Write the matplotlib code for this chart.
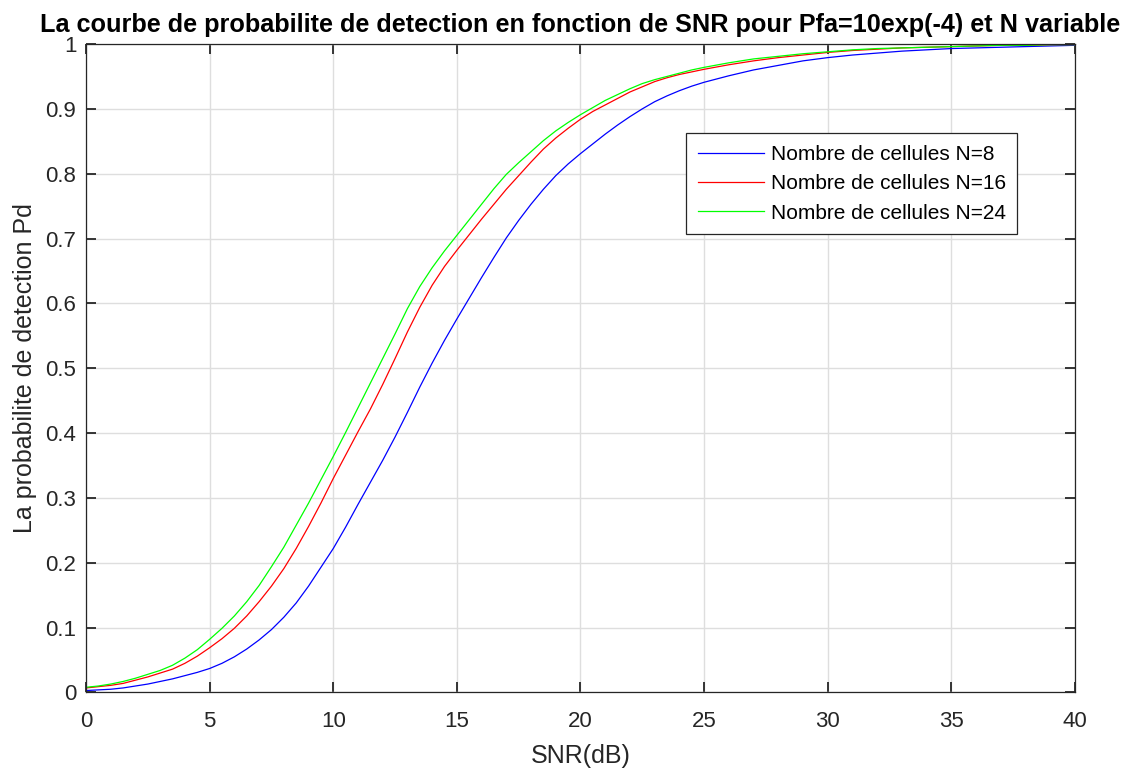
import matplotlib
matplotlib.use('Agg')
import matplotlib.pyplot as plt

plt.rcParams['font.family'] = ['Liberation Sans', 'DejaVu Sans']

# SNR (dB)
snr = [0, 0.5, 1, 1.5, 2, 2.5, 3, 3.5, 4, 4.5, 5, 5.5, 6, 6.5, 7, 7.5, 8, 8.5, 9, 9.5,
       10, 10.5, 11, 11.5, 12, 12.5, 13, 13.5, 14, 14.5, 15, 15.5, 16, 16.5, 17, 17.5,
       18, 18.5, 19, 19.5, 20, 20.5, 21, 21.5, 22, 22.5, 23, 23.5, 24, 24.5, 25,
       26, 27, 28, 29, 30, 31, 32, 33, 34, 35, 36, 37, 38, 39, 40]

# probabilite de detection pour N=8
pd_n8 = [0.003, 0.004, 0.005, 0.007, 0.010, 0.013, 0.017, 0.021, 0.026, 0.031,
         0.037, 0.045, 0.055, 0.067, 0.081, 0.097, 0.116, 0.138, 0.164, 0.193,
         0.222, 0.255, 0.290, 0.324, 0.358, 0.394, 0.432, 0.471, 0.508, 0.543,
         0.576, 0.608, 0.640, 0.671, 0.701, 0.728, 0.753, 0.776, 0.797, 0.815,
         0.831, 0.846, 0.861, 0.875, 0.888, 0.900, 0.911, 0.920, 0.928, 0.935,
         0.941, 0.951, 0.960, 0.967, 0.974, 0.979, 0.983, 0.986, 0.989, 0.991,
         0.993, 0.994, 0.995, 0.996, 0.997, 0.998]
# N=16
pd_n16 = [0.007, 0.009, 0.011, 0.014, 0.019, 0.024, 0.030, 0.036, 0.045, 0.056,
          0.069, 0.083, 0.099, 0.118, 0.140, 0.164, 0.191, 0.222, 0.256, 0.292,
          0.330, 0.366, 0.402, 0.437, 0.475, 0.515, 0.556, 0.594, 0.628, 0.657,
          0.682, 0.706, 0.730, 0.753, 0.776, 0.797, 0.818, 0.838, 0.855, 0.870,
          0.884, 0.896, 0.906, 0.916, 0.926, 0.934, 0.942, 0.948, 0.953, 0.957,
          0.961, 0.968, 0.974, 0.979, 0.983, 0.987, 0.990, 0.992, 0.994, 0.995,
          0.996, 0.997, 0.998, 0.998, 0.999, 0.999]
# N=24
pd_n24 = [0.008, 0.010, 0.013, 0.017, 0.022, 0.028, 0.034, 0.042, 0.053, 0.066,
          0.082, 0.099, 0.118, 0.140, 0.165, 0.194, 0.224, 0.258, 0.292, 0.328,
          0.364, 0.401, 0.439, 0.477, 0.515, 0.553, 0.592, 0.626, 0.655, 0.681,
          0.705, 0.729, 0.753, 0.777, 0.799, 0.817, 0.834, 0.851, 0.866, 0.879,
          0.891, 0.902, 0.913, 0.922, 0.931, 0.939, 0.945, 0.950, 0.955, 0.960,
          0.964, 0.971, 0.977, 0.981, 0.985, 0.988, 0.991, 0.993, 0.994, 0.995,
          0.996, 0.997, 0.998, 0.998, 0.999, 0.999]

labels = ['Nombre de cellules N=8', 'Nombre de cellules N=16', 'Nombre de cellules N=24']
xticks = [0, 5, 10, 15, 20, 25, 30, 35, 40]
yticks = [0, 0.1, 0.2, 0.3, 0.4, 0.5, 0.6, 0.7, 0.8, 0.9, 1]
ytick_labels = ['0', '0.1', '0.2', '0.3', '0.4', '0.5', '0.6', '0.7', '0.8', '0.9', '1']

fig = plt.figure(figsize=(11.38, 7.72), dpi=100)
ax = fig.add_axes([0.0756, 0.103, 0.869, 0.840])

ax.plot(snr, pd_n8, color='#0000ff', lw=0.9, label=labels[0])
ax.plot(snr, pd_n16, color='#ff0000', lw=0.9, label=labels[1])
ax.plot(snr, pd_n24, color='#00ff00', lw=0.9, label=labels[2])

ax.set_xlim(0, 40)
ax.set_ylim(0, 1)
ax.set_xticks(xticks)
ax.set_yticks(yticks)
ax.set_yticklabels(ytick_labels)
ax.grid(True, color='#dedede', lw=1.0)
ax.set_axisbelow(True)
ax.tick_params(direction='in', length=7.5, width=1.3, colors='#262626',
               labelsize=16, top=True, right=True, pad=7)
ax.tick_params(axis='x', pad=13)
for tl in ax.get_xticklabels() + ax.get_yticklabels():
    tl.set_color('#262626')
for s in ax.spines.values():
    s.set_color('#262626')
    s.set_linewidth(0.9)

ax.set_xlabel('SNR(dB)', fontsize=18, color='#262626', labelpad=9)
ax.set_ylabel('La probabilite de detection Pd', fontsize=18, color='#262626', labelpad=6)
ax.set_title('La courbe de probabilite de detection en fonction de SNR pour Pfa=10exp(-4) et N variable',
             fontsize=18.2, fontweight='bold', pad=9)

leg = ax.legend(loc='upper left', bbox_to_anchor=(0.607, 0.862), borderaxespad=0,
                fontsize=15, fancybox=False, edgecolor='#262626', framealpha=1,
                handlelength=3.2, borderpad=0.55, labelspacing=0.5, handletextpad=0.3)
leg.get_frame().set_linewidth(0.9)

fig.savefig('out.png', dpi=100)
